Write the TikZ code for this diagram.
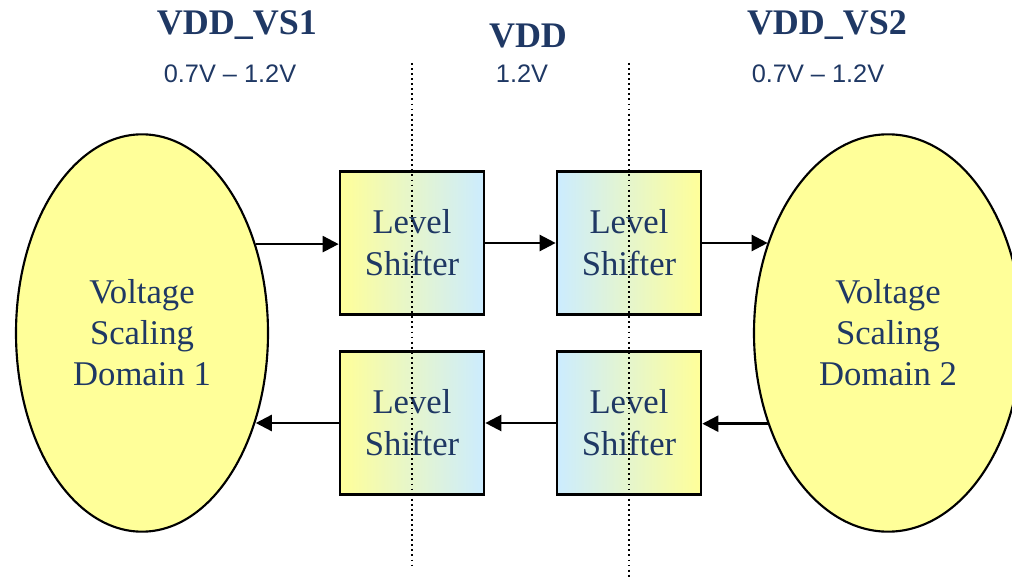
\documentclass[tikz,border=0pt]{standalone}
\usepackage{fontspec}
\setmainfont{Liberation Serif}
\newfontfamily\arialfont{Liberation Sans}
\usetikzlibrary{arrows.meta,positioning,calc,shapes.geometric}
\definecolor{navy}{HTML}{1F3864}
\definecolor{lemon}{HTML}{FFFF99}
\definecolor{sky}{HTML}{CCECFF}
\tikzset{shifter/.style={draw=black,line width=2pt,minimum width=108pt,minimum height=107pt,inner sep=0pt,align=center,text=navy,font=\fontsize{26}{31.5}\selectfont},upbox/.style={shifter,left color=lemon,right color=sky},dnbox/.style={shifter,left color=sky,right color=lemon},vsdomain/.style={ellipse,draw=black,line width=1.6pt,fill=lemon,inner sep=0pt,minimum height=298pt,align=center,text=navy,font=\fontsize{26}{30.75}\selectfont},flow/.style={-{Triangle[length=12pt,width=12pt]},line width=1.8pt},rail/.style={line width=1.4pt,dash pattern=on 1.4pt off 2.4pt},railname/.style={anchor=base,text=navy,font=\fontsize{27}{27}\selectfont\bfseries},volt/.style={anchor=base,text=navy,font=\arialfont\fontsize{19}{19}\selectfont}}
\begin{document}
\begin{tikzpicture}[x=0.75pt,y=-0.75pt]
\useasboundingbox (0,0) rectangle (1012,580);
\node[vsdomain,minimum width=189pt] (dom1) at (142,333) {Voltage\\Scaling\\Domain 1};
\node[vsdomain,minimum width=201pt] (dom2) at (888,333) {Voltage\\Scaling\\Domain 2};
\node[upbox] (ls1) at (412,243) {Level\\Shifter};
\node[dnbox] (ls2) at (629,243) {Level\\Shifter};
\node[upbox] (ls3) at (412,423) {Level\\Shifter};
\node[dnbox] (ls4) at (629,423) {Level\\Shifter};
\coordinate (d1a) at (dom1.38.7);
\coordinate (d1b) at (dom1.-38.7);
\coordinate (d2a) at (dom2.143);
\coordinate (d2b) at (dom2.217);
\draw[flow](d1a)--(d1a-|ls1.west);\draw[flow](ls1)--(ls2);\draw[flow](ls2.east)--(ls2.east-|d2a);
\draw[flow](d2b)--(d2b-|ls4.east);\draw[flow](ls4)--(ls3);\draw[flow](ls3.west)--(ls3.west-|d1b);
\draw[rail](412,63)--(412,566);
\draw[rail](629,63)--(629,580);
\node[railname] (vs1) at (237,35) {VDD\_VS1};
\node[railname] (vdd) at (528,48) {VDD};
\node[railname] (vs2) at (827,35) {VDD\_VS2};
\node[volt] (v1) at (230,83) {0.7V – 1.2V};
\node[volt] (v0) at (522,83) {1.2V};
\node[volt] (v2) at (818,83) {0.7V – 1.2V};
\end{tikzpicture}
\end{document}
